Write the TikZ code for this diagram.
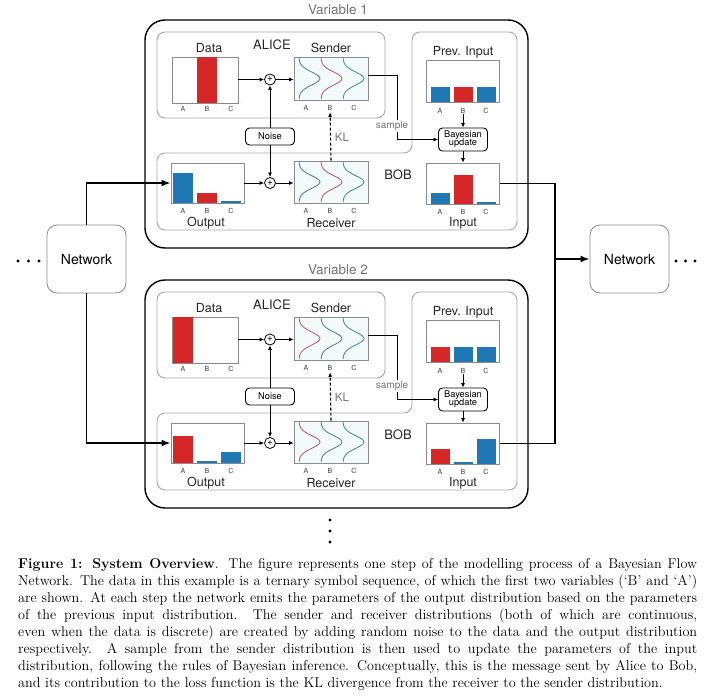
\documentclass[tikz,border=0pt]{standalone}
\usepackage{fontspec}
\newfontfamily\heros{TeX Gyre Heros}
\usetikzlibrary{arrows.meta}
\definecolor{barred}{HTML}{D62728}
\definecolor{barblue}{HTML}{1F77B4}
\definecolor{kred}{RGB}{192,80,100}
\definecolor{kblue}{RGB}{75,120,160}
\definecolor{kteal}{RGB}{55,140,150}
\definecolor{distfill}{RGB}{243,250,250}
\tikzset{
  chart/.style={draw=black!45, line width=0.8pt, inner sep=0pt},
  dist/.style={chart, fill=distfill},
  region/.style={draw=black!35, line width=0.9pt, rounded corners=8pt},
  outer/.style={draw=black, line width=1.4pt, rounded corners=20pt},
  title/.style={font=\heros\fontsize{12.5}{14}\selectfont, text=black!85, inner sep=0pt},
  tick/.style={font=\heros\fontsize{7}{8}\selectfont, text=black!75, inner sep=0.5pt},
  op/.style={draw, circle, line width=0.8pt, minimum size=11pt, inner sep=0pt, font=\heros\fontsize{10}{10}\selectfont},
  proc/.style={draw, rounded corners=4pt, line width=0.9pt, align=center, inner sep=0pt, font=\heros\fontsize{9.3}{9}\selectfont},
  arr/.style={-{Latex[length=4.5pt,width=4pt]}, line width=0.8pt},
  flow/.style={-{Latex[length=9pt,width=7pt]}, line width=1.8pt},
  net/.style={draw=black!45, rounded corners=10pt, line width=0.8pt, minimum width=79pt, minimum height=68pt, font=\heros\fontsize{14}{16}\selectfont}
}
\begin{document}
\begin{tikzpicture}[x=1pt, y=-1pt]
\useasboundingbox (0,0) rectangle (720,696);
\foreach \vi/\dy/\ca/\cb/\cc/\da/\db/\dc/\oa/\ob/\oc/\ia/\ib/\ic/\ka/\kb/\kc in {
  1/0/barblue/barred/barblue/0/1/0/0.75/0.25/0.03/0.27/0.70/0.03/kblue/kred/kteal,
  2/260/barred/barblue/barblue/1/0/0/0.68/0.04/0.27/0.37/0.03/0.60/kred/kblue/kteal}
{
\begin{scope}[shift={(0,\dy)}]
  \node[title, text=black!55, font=\heros\fontsize{13.5}{15}\selectfont] (var\vi) at (338,10) {Variable \vi};
  \draw[outer] (145,20) rectangle (528,248);
  \draw[region] (157,32) rectangle (385,118);
  \draw[region] (157,153) -- (412,153) -- (412,32) -- (517,32) -- (517,230) -- (157,230) -- cycle;
  \node[title, font=\heros\fontsize{13}{15}\selectfont] (alice\vi) at (272,45) {ALICE};
  \node[title, font=\heros\fontsize{13}{15}\selectfont] (bob\vi) at (398,175) {BOB};
  % charts
  \node[chart, minimum width=66pt, minimum height=46pt] (data\vi) at (205,80) {};
  \node[chart, minimum width=73pt, minimum height=40pt] (out\vi) at (207.5,183) {};
  \node[chart, minimum width=73pt, minimum height=42pt] (prev\vi) at (463,81) {};
  \node[chart, minimum width=73pt, minimum height=41pt] (inp\vi) at (463,183.5) {};
  \node[dist, minimum width=74pt, minimum height=43pt] (sender\vi) at (331,78.5) {};
  \node[dist, minimum width=74pt, minimum height=42pt] (recv\vi) at (331,182) {};
  \foreach \h/\col/\bx in {\da/\ca/173, \db/\cb/197, \dc/\cc/221}
    \fill[\col] (\bx,102.6) rectangle ++(20,{-45.6*\h});
  \foreach \h/\col/\bx in {\oa/\ca/173, \ob/\cb/197, \oc/\cc/221}
    \fill[\col] (\bx,202.6) rectangle ++(20,{-39.6*max(\h,0.04)});
  \foreach \h/\col/\bx in {0.34/\ca/431, 0.34/\cb/454, 0.34/\cc/477}
    \fill[\col] (\bx,101.6) rectangle ++(18.5,{-41.6*\h});
  \foreach \h/\col/\bx in {\ia/\ca/431, \ib/\cb/454, \ic/\cc/477}
    \fill[\col] (\bx,203.6) rectangle ++(18.5,{-40.6*max(\h,0.04)});
  \foreach \col/\xo in {\ka/299, \kb/321, \kc/343} {
    \draw[\col, line width=0.8pt] plot[domain=-1:1, samples=31, smooth] ({\xo+21*exp(-\x*\x/0.2)}, {78.5+20.5*\x});
    \draw[\col, line width=0.8pt] plot[domain=-1:1, samples=31, smooth] ({\xo+21*exp(-\x*\x/0.2)}, {182+20*\x});
  }
  % tick labels
  \foreach \lt/\tx in {A/183, B/207, C/231} {
    \node[tick] (dat\lt\vi) at (\tx,109) {\lt};
    \node[tick] (outl\lt\vi) at (\tx,211) {\lt};
  }
  \foreach \lt/\tx in {A/306, B/330, C/354} {
    \node[tick] (send\lt\vi) at (\tx,108) {\lt};
    \node[tick] (rec\lt\vi) at (\tx,211) {\lt};
  }
  \foreach \lt/\tx in {A/440, B/463, C/486} {
    \node[tick] (prev\lt\vi) at (\tx,111) {\lt};
    \node[tick] (inpl\lt\vi) at (\tx,212) {\lt};
  }
  % titles
  \node[title] (datat\vi) at (209,48) {Data};
  \node[title] (sendt\vi) at (331,48) {Sender};
  \node[title] (prevt\vi) at (463,52) {Prev. Input};
  \node[title] (outt\vi) at (206,223) {Output};
  \node[title] (rect\vi) at (331,223) {Receiver};
  \node[title] (inpt\vi) at (463,223) {Input};
  % operations
  \node[op] (plusU\vi) at (270,79.5) {+};
  \node[op] (plusL\vi) at (270,183) {+};
  \node[proc, minimum width=49pt, minimum height=17pt] (noise\vi) at (270,136.5) {Noise};
  \node[proc, minimum width=49pt, minimum height=23pt] (bayes\vi) at (463,139.5) {Bayesian\\[-1pt]update};
  % connectors
  \draw[arr] (data\vi.east |- plusU\vi) -- (plusU\vi);
  \draw[arr] (plusU\vi) -- (plusU\vi -| sender\vi.west);
  \draw[arr] (noise\vi) -- (plusU\vi);
  \draw[arr] (noise\vi) -- (plusL\vi);
  \draw[arr] (out\vi.east) -- (plusL\vi);
  \draw[arr] (plusL\vi) -- (plusL\vi -| recv\vi.west);
  \draw[arr, line width=1.1pt, dash pattern=on 3pt off 2pt, shorten >=1pt] (recv\vi.north) -- (sendB\vi);
  \draw[arr] ([yshift=3.5pt]sender\vi.east) -- ++(29,0) |- (bayes\vi.west);
  \draw[arr] (prevB\vi) -- (bayes\vi);
  \draw[arr] (bayes\vi) -- (inp\vi);
  \node[font=\heros\fontsize{10}{11}\selectfont, text=black!55, fill=white, inner sep=0.8pt] (sample\vi) at (392,126) {sample};
  \node[font=\heros\fontsize{11.5}{13}\selectfont, text=black!55, inner sep=0pt] (kl\vi) at (342,137) {KL};
\end{scope}
}
% networks
\node[net] (netL) at (86.5,259) {Network};
\node[net] (netR) at (629.5,259) {Network};
\draw[flow] (netL.north) |- (out1.west);
\draw[flow] (netL.south) |- (out2.west);
\coordinate (join) at (555,259);
\draw[line width=1.8pt] (inp1.east) -| (join) |- (inp2.east);
\draw[flow] (join) -- (netR.west);
\foreach \dx in {18,28.5,39} \fill (\dx,261) circle (1.7);
\foreach \dx in {676,685.5,695} \fill (\dx,261) circle (1.7);
\foreach \dd in {520,531,542} \fill (330,\dd) circle (1.7);
% caption
\node[anchor=north west, inner sep=0pt, text width=679pt, font=\fontsize{14.2}{17}\selectfont] (caption) at (18,558) {%
\spaceskip=0pt\xspaceskip=0pt
\makebox[679pt][s]{\textbf{Figure 1: System Overview}. The figure represents one step of the modelling process of a Bayesian Flow}\\
\makebox[679pt][s]{Network. The data in this example is a ternary symbol sequence, of which the first two variables (`B' and `A')}\\
\makebox[679pt][s]{are shown. At each step the network emits the parameters of the output distribution based on the parameters}\\
\makebox[679pt][s]{of the previous input distribution. The sender and receiver distributions (both of which are continuous,}\\
\makebox[679pt][s]{even when the data is discrete) are created by adding random noise to the data and the output distribution}\\
\makebox[679pt][s]{respectively. A sample from the sender distribution is then used to update the parameters of the input}\\
\makebox[679pt][s]{distribution, following the rules of Bayesian inference. Conceptually, this is the message sent by Alice to Bob,}\\
and its contribution to the loss function is the KL divergence from the receiver to the sender distribution.};
\end{tikzpicture}
\end{document}
